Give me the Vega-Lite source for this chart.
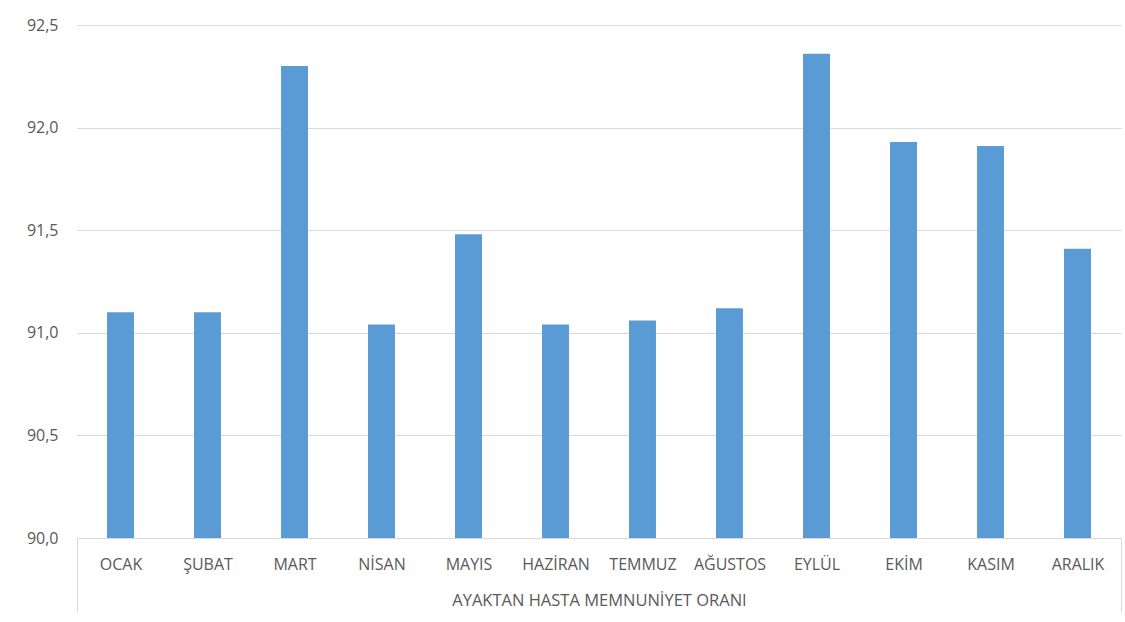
{
  "$schema": "https://vega.github.io/schema/vega-lite/v6.json",
  "autosize": "none",
  "width": 1044,
  "height": 513,
  "padding": {"left": 77, "top": 25, "right": 4, "bottom": 84},
  "background": "white",
  "config": {
    "view": {"stroke": null},
    "font": "Open Sans"
  },
  "data": {
    "values": [
      {"ay": "OCAK", "oran": 91.10},
      {"ay": "ŞUBAT", "oran": 91.10},
      {"ay": "MART", "oran": 92.30},
      {"ay": "NİSAN", "oran": 91.04},
      {"ay": "MAYIS", "oran": 91.48},
      {"ay": "HAZİRAN", "oran": 91.04},
      {"ay": "TEMMUZ", "oran": 91.06},
      {"ay": "AĞUSTOS", "oran": 91.12},
      {"ay": "EYLÜL", "oran": 92.36},
      {"ay": "EKİM", "oran": 91.93},
      {"ay": "KASIM", "oran": 91.91},
      {"ay": "ARALIK", "oran": 91.41}
    ]
  },
  "mark": {"type": "bar", "color": "#5b9bd5", "width": {"band": 0.31}},
  "encoding": {
    "x": {
      "field": "ay",
      "type": "nominal",
      "sort": null,
      "scale": {"paddingInner": 0, "paddingOuter": 0},
      "axis": {
        "title": "AYAKTAN HASTA MEMNUNİYET ORANI",
        "titleFont": "Open Sans",
        "titleFontSize": 16.5,
        "titleFontWeight": "normal",
        "titleColor": "#595959",
        "titlePadding": -20,
        "labelAngle": 0,
        "labelFont": "Open Sans",
        "labelFontSize": 16,
        "labelColor": "#595959",
        "labelPadding": -56,
        "domainColor": "#d9d9d9",
        "domainWidth": 1,
        "tickBand": "extent",
        "tickSize": 74,
        "tickColor": "#d9d9d9",
        "tickOpacity": {"condition": {"test": "datum.value === 'ARALIK' || datum.index < 0 || datum.extra", "value": 1}, "value": 0},
        "grid": false
      }
    },
    "y": {
      "field": "oran",
      "type": "quantitative",
      "scale": {"domain": [90, 92.5], "nice": false, "zero": false},
      "axis": {
        "title": null,
        "values": [90, 90.5, 91, 91.5, 92, 92.5],
        "labelExpr": "replace(format(datum.value, '.1f'), '.', ',')",
        "labelFont": "Open Sans",
        "labelFontSize": 16,
        "labelColor": "#595959",
        "labelPadding": 19,
        "ticks": false,
        "domain": false,
        "grid": true,
        "gridColor": "#d9d9d9",
        "gridWidth": 1
      }
    },
    "y2": {"datum": 90}
  }
}
